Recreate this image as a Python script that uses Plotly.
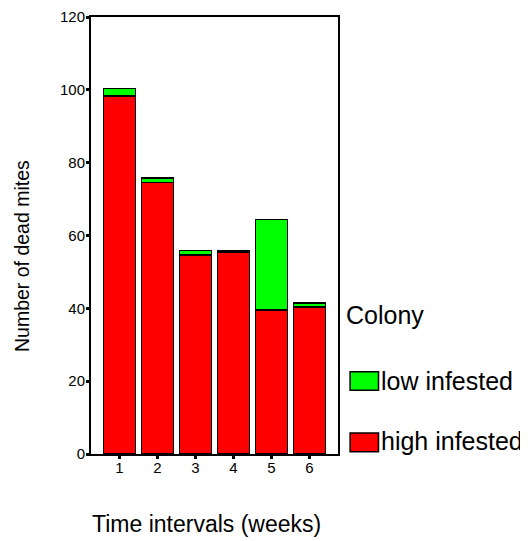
import plotly.graph_objects as go

weeks = [1, 2, 3, 4, 5, 6]
tick_labels = ["1", "2", "3", "4", "5", "6"]
high_infested = [98.3, 74.5, 54.6, 55.5, 39.5, 40.4]
low_infested = [2.0, 1.3, 1.3, 0.4, 24.9, 1.1]

RED = "#FF0000"
GREEN = "#00FF00"
FONT = "Liberation Sans, Arial, sans-serif"

fig = go.Figure()
fig.add_trace(go.Bar(x=weeks, y=high_infested, name="high infested",
                     marker=dict(color=RED, line=dict(color="black", width=1.5)),
                     width=0.84, showlegend=False))
fig.add_trace(go.Bar(x=weeks, y=low_infested, name="low infested",
                     marker=dict(color=GREEN, line=dict(color="black", width=1.5)),
                     width=0.84, showlegend=False))

# custom legend (swatches + labels)
legend_items = [("low infested", GREEN, 0.188, 0.146, 0.167),
                ("high infested", RED, 0.048, 0.005, 0.029)]
for label, col, y1, y0, yc in legend_items:
    fig.add_shape(type="rect", xref="paper", yref="paper", x0=1.049, x1=1.164,
                  y0=y0, y1=y1, fillcolor=col, line=dict(color="black", width=1.5))
    fig.add_annotation(text=label, xref="paper", yref="paper", x=1.166, y=yc,
                       xanchor="left", yanchor="middle", showarrow=False,
                       font=dict(size=25, color="black", family=FONT))
fig.add_annotation(text="Colony", xref="paper", yref="paper", x=1.026, y=0.318,
                   xanchor="left", yanchor="middle", showarrow=False,
                   font=dict(size=25, color="black", family=FONT))

# axis titles
fig.add_annotation(text="Time intervals (weeks)", xref="paper", yref="paper",
                   x=0.467, y=0, yshift=-70, xanchor="center", yanchor="middle",
                   showarrow=False, font=dict(size=23, color="black", family=FONT))
fig.add_annotation(text="Number of dead mites", xref="paper", yref="paper",
                   x=0, xshift=-69, y=0.453, textangle=-90,
                   xanchor="center", yanchor="middle",
                   showarrow=False, font=dict(size=19.5, color="black", family=FONT))

# the page body adds an 8px margin, so the figure is 8px smaller on each axis
fig.update_layout(
    barmode="stack",
    width=520, height=533,
    margin=dict(l=83, r=190, t=9, b=87),
    plot_bgcolor="white", paper_bgcolor="white",
    font=dict(family=FONT, color="black"),
    showlegend=False,
)
fig.update_xaxes(range=[0.25, 6.75], tickvals=weeks, ticktext=tick_labels,
                 showline=True, mirror=True, linecolor="black", linewidth=2,
                 ticks="outside", ticklen=3, tickwidth=3, tickcolor="black",
                 showgrid=False, zeroline=False, tickfont=dict(size=15),
                 ticklabelstandoff=-4, automargin=False)
fig.update_yaxes(range=[0, 120], dtick=20,
                 showline=True, mirror=True, linecolor="black", linewidth=2,
                 ticks="outside", ticklen=3, tickwidth=3, tickcolor="black",
                 showgrid=False, zeroline=False, tickfont=dict(size=15),
                 ticklabelstandoff=-2, ticklabeloverflow="allow", automargin=False)

fig.write_html("out.html")
